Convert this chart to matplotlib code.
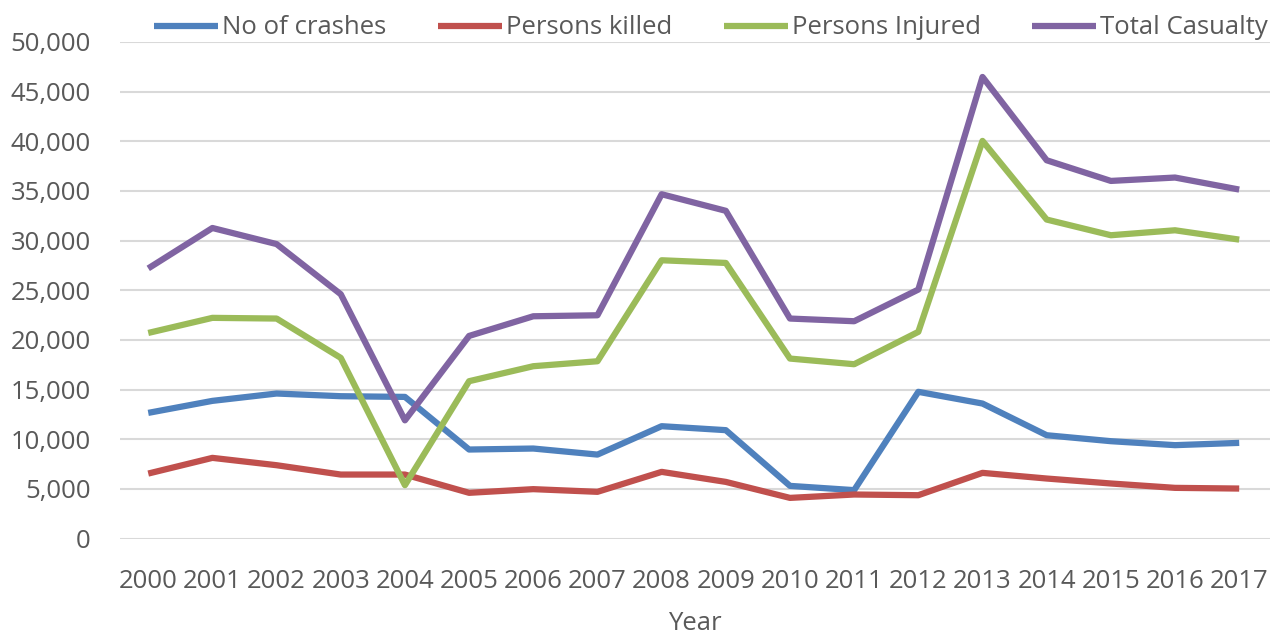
import matplotlib.pyplot as plt
from matplotlib.ticker import FuncFormatter

# --- data ---
years = list(range(2000, 2018))

crashes = [12650, 13860, 14600, 14330, 14260, 8960, 9060, 8450, 11310, 10910,
           5300, 4870, 14770, 13590, 10400, 9800, 9400, 9630]
killed = [6540, 8120, 7380, 6440, 6440, 4600, 4970, 4700, 6710, 5700,
          4090, 4430, 4360, 6610, 6040, 5540, 5100, 5030]
injured = [20700, 22220, 22150, 18190, 5370, 15840, 17350, 17850, 28020, 27750,
           18120, 17550, 20810, 40040, 32120, 30540, 31040, 30100]
casualty = [27200, 31270, 29650, 24600, 11900, 20400, 22380, 22480, 34670, 33000,
            22150, 21880, 25070, 46480, 38090, 36010, 36350, 35140]

series_names = ["No of crashes", "Persons killed", "Persons Injured", "Total Casualty"]
series_colors = ["#4F81BD", "#C0504D", "#9BBB59", "#8064A2"]
y_ticks = list(range(0, 50001, 5000))

plt.rcParams['font.family'] = ['Open Sans', 'DejaVu Sans']
text_color = "#595959"
fs = 18.5

fig = plt.figure(figsize=(12.7, 6.35), dpi=100)
ax = fig.add_axes([120 / 1270, 1 - 538.5 / 635, 1150 / 1270, (538.5 - 42) / 635])

for vals, name, col in zip([crashes, killed, injured, casualty], series_names, series_colors):
    ax.plot(years, vals, color=col, linewidth=4.5, label=name, solid_capstyle='butt')

ax.set_xlim(1999.56, 2017.48)
ax.set_ylim(0, 50000)
ax.set_yticks(y_ticks)
ax.set_xticks(years)
ax.yaxis.set_major_formatter(FuncFormatter(lambda v, p: f"{int(v):,}"))
ax.grid(axis='y', color='#d9d9d9', linewidth=1.5)
ax.set_axisbelow(True)
for s in ax.spines.values():
    s.set_visible(False)
ax.tick_params(length=0, labelsize=fs, colors=text_color)
ax.tick_params(axis='x', pad=22)
ax.tick_params(axis='y', pad=21)
ax.set_xlabel("Year", fontsize=fs, color=text_color, labelpad=12)

fig.legend(loc='center', bbox_to_anchor=(711 / 1270, 1 - 28 / 635), ncol=4,
           frameon=False, fontsize=fs, handlelength=2.5, handletextpad=0.15,
           columnspacing=2.0, labelcolor=text_color, borderaxespad=0)

fig.savefig("out.png", dpi=100)
